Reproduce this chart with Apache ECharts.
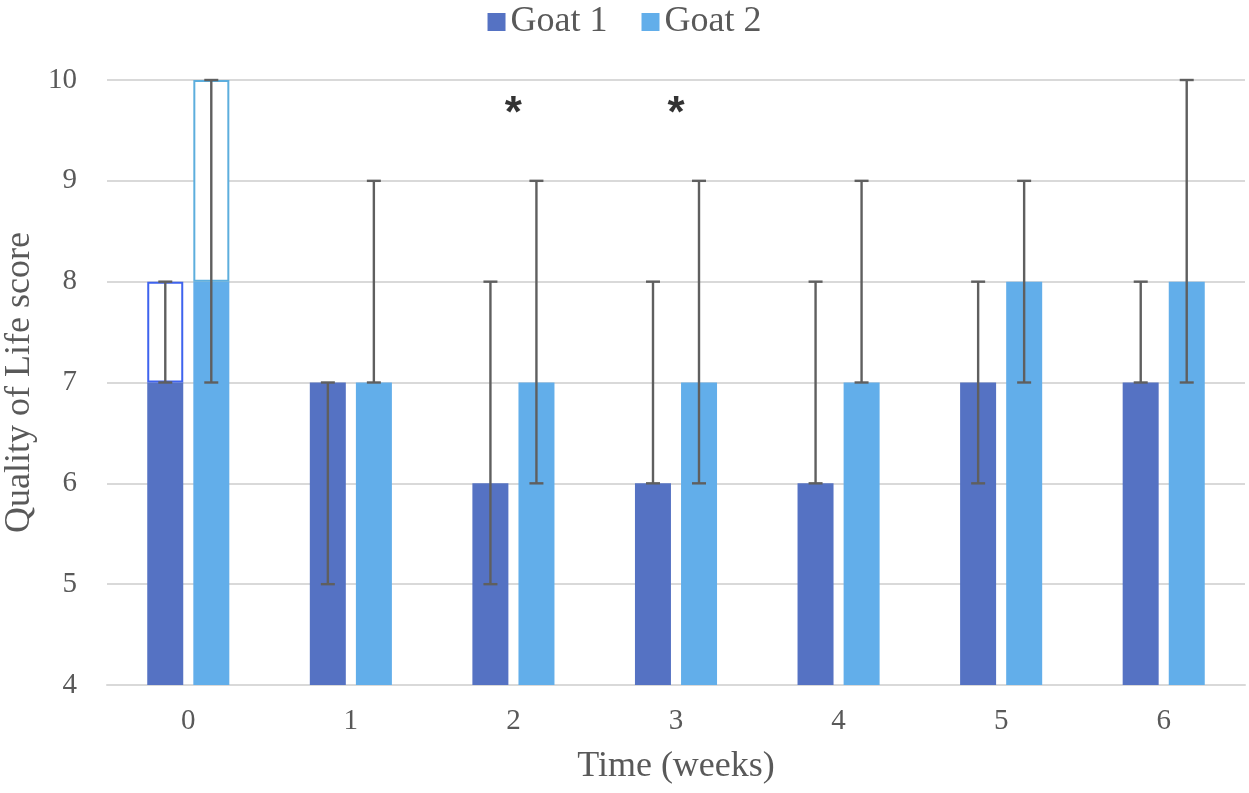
<!DOCTYPE html>
<html><head><meta charset="utf-8">
<script src="https://cdn.jsdelivr.net/npm/echarts@6/dist/echarts.min.js"></script>
<style>html,body{margin:0;padding:0;background:#fff}#c{width:1249px;height:793px}</style>
</head><body><div id="c"></div>
<script>
const weeks = ['0','1','2','3','4','5','6'];
const goat1 = [7,7,6,6,6,7,7];
const goat2 = [8,7,7,7,7,8,8];
const goat1Low = [7,5,5,6,6,6,7];
const goat1High = [8,7,8,8,8,8,8];
const goat2Low = [7,7,6,6,7,7,7];
const goat2High = [10,9,9,9,9,9,10];
// hollow outlined extension at week 0 (top of outlined box)
const goat1OutlineTop = [8,null,null,null,null,null,null];
const goat2OutlineTop = [10,null,null,null,null,null,null];
const starWeeks = ['2','3'];
const starLevel = 9.72;

const C1 = '#5572C3', C2 = '#62AEEA';
const BW = 36, OFF = 23;
const serif = '"Liberation Serif", "DejaVu Serif", serif';

function ext(base, top){ return base.map((b,i)=> top[i]==null ? null : top[i]-b); }
function errData(lo, hi){ return weeks.map((w,i)=>[i, lo[i], hi[i]]); }
function errRender(off){
  return function(params, api){
    const x = api.coord([api.value(0), api.value(1)])[0] + off;
    const y1 = api.coord([api.value(0), api.value(1)])[1];
    const y2 = api.coord([api.value(0), api.value(2)])[1];
    const st = {stroke:'#5f5f5f', lineWidth:2.4};
    return {type:'group', children:[
      {type:'line', shape:{x1:x,y1:y1,x2:x,y2:y2}, style:st},
      {type:'line', shape:{x1:x-7,y1:y1,x2:x+7,y2:y1}, style:st},
      {type:'line', shape:{x1:x-7,y1:y2,x2:x+7,y2:y2}, style:st}
    ]};
  };
}

const chart = echarts.init(document.getElementById('c'));
chart.setOption({
  animation:false,
  backgroundColor:'#fff',
  legend:{data:['Goat 1','Goat 2'], top:-1, left:'center', icon:'rect', itemWidth:18, itemHeight:18, itemGap:34,
    textStyle:{fontFamily:serif, fontSize:36, color:'#595959'}},
  grid:{left:107, right:4, top:80, bottom:108, containLabel:false, outerBoundsMode:'none'},
  xAxis:{type:'category', data:weeks,
    axisLine:{lineStyle:{color:'#d9d9d9', width:2}}, axisTick:{show:false},
    axisLabel:{fontFamily:serif, fontSize:29, color:'#595959', margin:22},
    name:'Time (weeks)', nameLocation:'middle', nameGap:64,
    nameTextStyle:{fontFamily:serif, fontSize:36, color:'#595959'}},
  yAxis:{type:'value', min:4, max:10, interval:1,
    axisLine:{show:false}, axisTick:{show:false},
    splitLine:{lineStyle:{color:'#d9d9d9', width:2}},
    axisLabel:{fontFamily:serif, fontSize:29, color:'#595959', margin:30},
    name:'Quality of Life score', nameLocation:'middle', nameGap:62,
    nameTextStyle:{fontFamily:serif, fontSize:36, color:'#595959'}},
  series:[
    {name:'Goat 1', type:'bar', stack:'g1', data:goat1, barWidth:BW, barGap:'28%', itemStyle:{color:C1}},
    {name:'Goat 1 range', type:'bar', stack:'g1', data:ext(goat1, goat1OutlineTop), barWidth:BW,
      itemStyle:{color:'#fff', borderColor:'#3F63EE', borderWidth:2}},
    {name:'Goat 2', type:'bar', stack:'g2', data:goat2, barWidth:BW, itemStyle:{color:C2}},
    {name:'Goat 2 range', type:'bar', stack:'g2', data:ext(goat2, goat2OutlineTop), barWidth:BW,
      itemStyle:{color:'#fff', borderColor:'#5DAEDD', borderWidth:2}},
    {type:'custom', renderItem:errRender(-OFF), data:errData(goat1Low, goat1High), z:10, encode:{x:0,y:[1,2]}},
    {type:'custom', renderItem:errRender(OFF), data:errData(goat2Low, goat2High), z:10, encode:{x:0,y:[1,2]}},
    {type:'scatter', symbolSize:0, data:starWeeks.map(w=>[w, starLevel]), z:11,
      label:{show:true, formatter:'*', position:'inside', fontFamily:'"Liberation Sans", Arial, sans-serif',
        fontSize:44, fontWeight:'bold', color:'#000', offset:[0,7]}}
  ]
});
</script></body></html>
